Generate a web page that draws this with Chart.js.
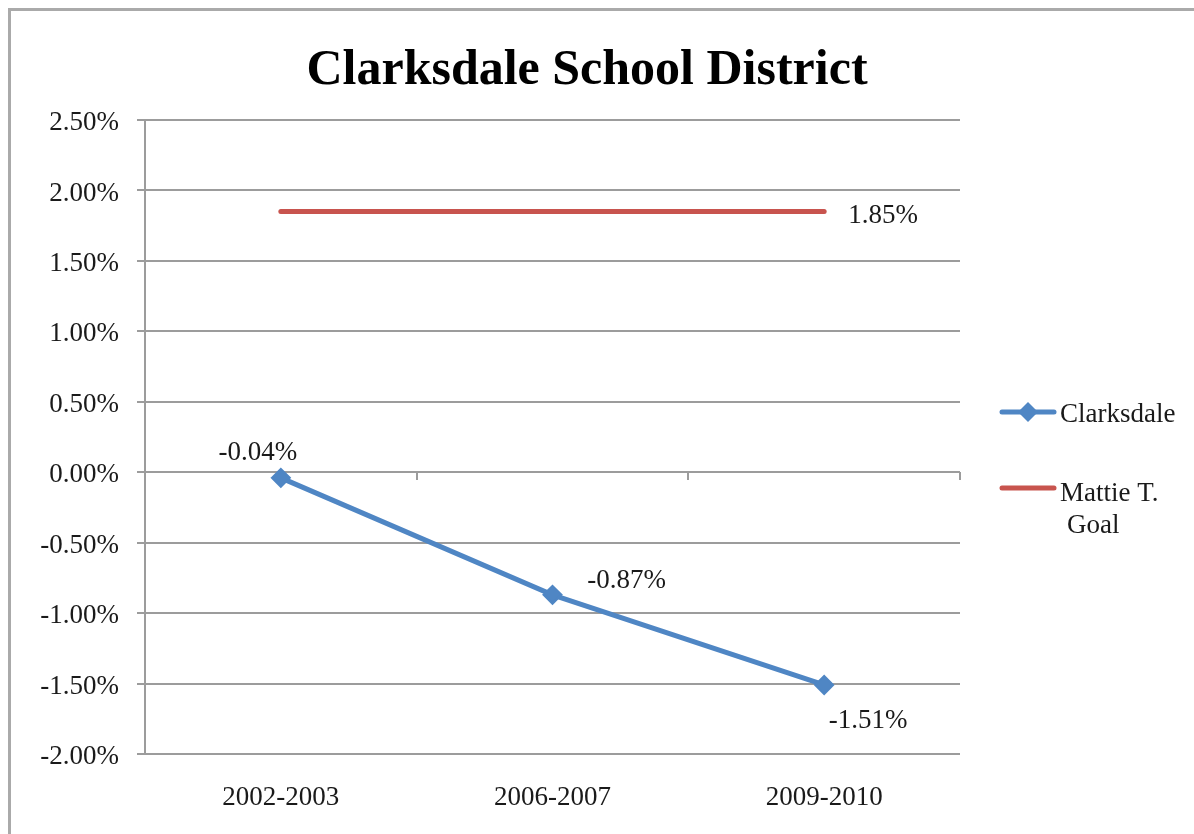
<!DOCTYPE html>
<html>
<head>
<meta charset="utf-8">
<title>Clarksdale School District</title>
<script src="https://cdn.jsdelivr.net/npm/chart.js@4"></script>
<style>
  html, body { margin: 0; padding: 0; background: #fff; }
  #wrap { width: 1194px; height: 834px; }
</style>
</head>
<body>
<div id="wrap"><canvas id="chart" width="1194" height="834"></canvas></div>
<script>
// ===== Data =====
const categories = ['2002-2003', '2006-2007', '2009-2010'];
const clarksdaleValues = [-0.04, -0.87, -1.51];
const goalValues = [1.85, 1.85, 1.85];
const yMin = -2.0;
const yMax = 2.5;
const yStep = 0.5;

const FONT = '"Liberation Serif", "Times New Roman", serif';
const TEXT = '#1a1a1a';
const GRID = '#9c9c9c';
const BLUE = '#4f86c4';
const RED = '#c8544e';

const fmtPct = v => v.toFixed(2) + '%';

// Title, frame, point labels and the legend drawn on the canvas
const decorations = {
  id: 'decorations',
  beforeDraw(chart) {
    const c = chart.ctx;
    c.save();
    c.fillStyle = '#fff';
    c.fillRect(0, 0, chart.width, chart.height);
    c.fillStyle = '#aaaaaa';
    c.fillRect(8, 8, chart.width - 8, 3);
    c.fillRect(8, 8, 3, chart.height - 8);
    c.restore();
  },
  afterDraw(chart) {
    const c = chart.ctx;
    c.save();

    // title
    c.fillStyle = '#000';
    c.font = 'bold 50px ' + FONT;
    c.textAlign = 'center';
    c.textBaseline = 'alphabetic';
    c.fillText('Clarksdale School District', 587, 84);

    // point labels
    c.font = '27px ' + FONT;
    c.fillStyle = TEXT;
    c.textBaseline = 'middle';
    const offsets = [[-23, -25], [74, -14], [44, 36]];
    chart.getDatasetMeta(0).data.forEach((pt, i) => {
      c.textAlign = 'center';
      c.fillText(fmtPct(clarksdaleValues[i]), pt.x + offsets[i][0], pt.y + offsets[i][1]);
    });
    const goalPts = chart.getDatasetMeta(1).data;
    const last = goalPts[goalPts.length - 1];
    c.textAlign = 'left';
    c.fillText(fmtPct(goalValues[goalValues.length - 1]), last.x + 24, last.y + 4);

    // legend
    c.lineCap = 'round';
    c.lineWidth = 5;
    c.strokeStyle = BLUE;
    c.beginPath(); c.moveTo(1002, 412); c.lineTo(1054, 412); c.stroke();
    c.fillStyle = BLUE;
    c.beginPath();
    c.moveTo(1028, 402); c.lineTo(1038, 412); c.lineTo(1028, 422); c.lineTo(1018, 412);
    c.closePath(); c.fill();
    c.strokeStyle = RED;
    c.beginPath(); c.moveTo(1002, 488); c.lineTo(1054, 488); c.stroke();

    c.fillStyle = TEXT;
    c.textAlign = 'left';
    c.fillText('Clarksdale', 1060, 415);
    c.fillText('Mattie T.', 1060, 494);
    c.fillText('Goal', 1067, 526);
    c.restore();
  }
};

const ctx = document.getElementById('chart').getContext('2d');

new Chart(ctx, {
  type: 'line',
  data: {
    labels: categories,
    datasets: [
      {
        label: 'Clarksdale',
        data: clarksdaleValues,
        borderColor: BLUE,
        backgroundColor: BLUE,
        borderWidth: 5,
        pointStyle: 'rectRot',
        pointRadius: 9,
        pointBorderWidth: 2,
        pointBackgroundColor: BLUE,
        pointBorderColor: BLUE,
        tension: 0
      },
      {
        label: 'Mattie T. Goal',
        data: goalValues,
        borderColor: RED,
        backgroundColor: RED,
        borderWidth: 5,
        borderCapStyle: 'round',
        pointRadius: 0,
        tension: 0
      }
    ]
  },
  options: {
    responsive: false,
    animation: false,
    layout: { padding: { left: 0, right: 234, top: 120, bottom: 0 } },
    scales: {
      x: {
        type: 'category',
        offset: true,
        grid: { display: false, drawTicks: false },
        border: { display: false },
        ticks: { color: TEXT, font: { family: FONT, size: 27 }, padding: 28, maxRotation: 0 },
        afterFit(scale) { scale.height = 80; }
      },
      x2: {
        type: 'category',
        axis: 'x',
        position: { y: 0 },
        offset: true,
        grid: { offset: true, drawOnChartArea: false, tickLength: 8, color: GRID, lineWidth: 2 },
        border: { display: false },
        ticks: { display: false }
      },
      y: {
        min: yMin,
        max: yMax,
        ticks: {
          stepSize: yStep,
          color: TEXT,
          font: { family: FONT, size: 27 },
          padding: 18,
          labelOffset: 3,
          callback: v => fmtPct(v)
        },
        grid: { color: GRID, lineWidth: 2, tickLength: 8 },
        border: { color: GRID, width: 2 },
        afterFit(scale) { scale.width = 145; }
      }
    },
    plugins: {
      legend: { display: false },
      title: { display: false },
      tooltip: { enabled: false }
    }
  },
  plugins: [decorations]
});
</script>
</body>
</html>
